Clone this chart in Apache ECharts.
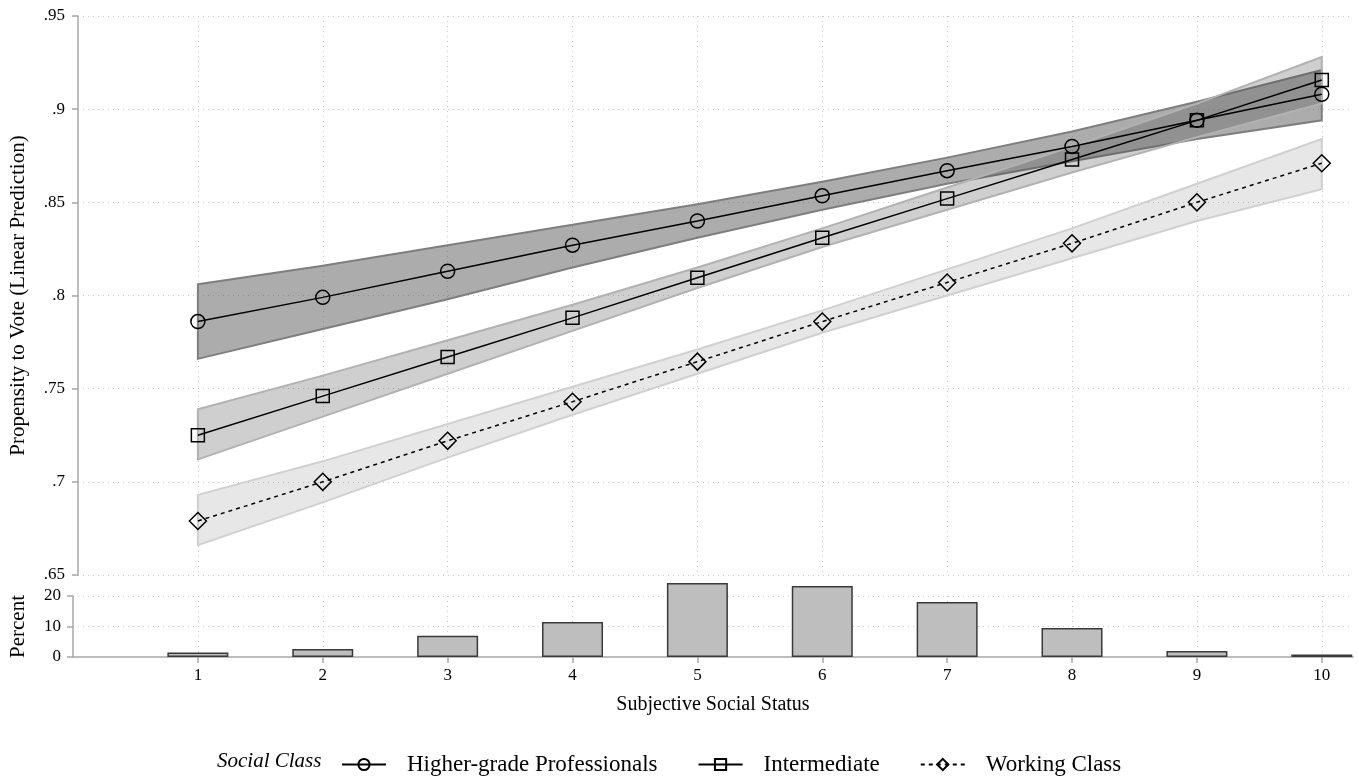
<!DOCTYPE html>
<html>
<head>
<meta charset="utf-8">
<script src="https://cdn.jsdelivr.net/npm/echarts@6/dist/echarts.min.js"></script>
<style>html,body{margin:0;padding:0;background:#fff}#c{width:1359px;height:776px}</style>
</head>
<body>
<div id="c"></div>
<script>
// ---- data ----
var statusX = [1, 2, 3, 4, 5, 6, 7, 8, 9, 10];
var higherFit = [0.786, 0.799, 0.813, 0.827, 0.840, 0.8535, 0.867, 0.880, 0.894, 0.908];
var higherLo  = [0.766, 0.782, 0.798, 0.815, 0.831, 0.846, 0.860, 0.872, 0.884, 0.894];
var higherHi  = [0.806, 0.816, 0.827, 0.838, 0.849, 0.861, 0.874, 0.888, 0.904, 0.921];
var interFit  = [0.725, 0.746, 0.767, 0.788, 0.8095, 0.831, 0.852, 0.873, 0.894, 0.9157];
var interLo   = [0.712, 0.735, 0.758, 0.781, 0.804, 0.826, 0.846, 0.866, 0.885, 0.903];
var interHi   = [0.739, 0.757, 0.776, 0.795, 0.815, 0.836, 0.858, 0.880, 0.903, 0.928];
var workFit   = [0.679, 0.700, 0.722, 0.743, 0.7645, 0.786, 0.807, 0.828, 0.850, 0.871];
var workLo    = [0.666, 0.689, 0.713, 0.736, 0.758, 0.780, 0.800, 0.820, 0.840, 0.857];
var workHi    = [0.693, 0.711, 0.731, 0.751, 0.771, 0.792, 0.814, 0.836, 0.860, 0.884];
var percent   = [1.5, 2.6, 7.0, 11.5, 24.3, 23.3, 18.0, 9.5, 2.0, 0.8];
var seriesNames = ['Higher-grade Professionals', 'Intermediate', 'Working Class'];

// ---- helpers ----
function pairs(ys) { return statusX.map(function (x, i) { return [x, ys[i]]; }); }
function bandRows(lo, hi) { return statusX.map(function (x, i) { return [x, lo[i], hi[i]]; }); }
function bandSeries(lo, hi, fill, stroke) {
  var rows = bandRows(lo, hi);
  return {
    type: 'custom', xAxisIndex: 0, yAxisIndex: 0, silent: true, z: 1,
    data: rows,
    encode: { x: 0, y: [1, 2] },
    renderItem: function (params, api) {
      if (params.dataIndex !== 0) return null;
      var pts = [];
      rows.forEach(function (r) { pts.push(api.coord([r[0], r[2]])); });
      rows.slice().reverse().forEach(function (r) { pts.push(api.coord([r[0], r[1]])); });
      return { type: 'polygon', shape: { points: pts }, style: { fill: fill, stroke: stroke, lineWidth: 2 } };
    }
  };
}
var serif = 'Liberation Serif';
var dotted = { color: '#c8c8c8', type: [1, 4], width: 1 };
function fmt(v) { return v.toFixed(2).replace(/^0/, '').replace(/0$/, ''); }

var chart = echarts.init(document.getElementById('c'), null, { renderer: 'canvas' });
chart.setOption({
  animation: false,
  backgroundColor: '#fff',
  grid: [
    { left: 72, width: 1281, top: 16, height: 559 },
    { left: 72, width: 1281, top: 596, height: 61 }
  ],
  xAxis: [
    { gridIndex: 0, type: 'value', min: 0, max: 10.25, interval: 1,
      axisLine: { show: false }, axisTick: { show: false }, axisLabel: { show: false },
      splitLine: { show: true, showMinLine: false, showMaxLine: false, lineStyle: dotted } },
    { gridIndex: 1, type: 'value', min: 0, max: 10.25, interval: 1,
      name: 'Subjective Social Status', nameLocation: 'middle', nameGap: 38,
      nameTextStyle: { fontFamily: serif, fontSize: 20, color: '#000' },
      axisLine: { show: true, onZero: false, lineStyle: { color: '#a8a8a8', width: 1.5 } },
      axisTick: { show: true, length: 6, lineStyle: { color: '#a8a8a8', width: 1.5 } },
      axisLabel: { showMinLabel: false, showMaxLabel: false, margin: 10, fontFamily: serif, fontSize: 17, color: '#000' },
      splitLine: { show: true, showMinLine: false, showMaxLine: false, lineStyle: dotted } }
  ],
  yAxis: [
    { gridIndex: 0, type: 'value', min: 0.65, max: 0.95, interval: 0.05, offset: -5,
      name: 'Propensity to Vote (Linear Prediction)', nameLocation: 'middle', nameGap: 49, nameRotate: 90,
      nameTextStyle: { fontFamily: serif, fontSize: 21, color: '#000' },
      axisLine: { show: true, lineStyle: { color: '#a8a8a8', width: 1.5 } },
      axisTick: { show: true, length: 6, lineStyle: { color: '#a8a8a8', width: 1.5 } },
      axisLabel: { formatter: fmt, margin: 13, fontFamily: serif, fontSize: 17, color: '#000' },
      splitLine: { show: true, lineStyle: dotted } },
    { gridIndex: 1, type: 'value', min: 0, max: 20, interval: 10,
      name: 'Percent', nameLocation: 'middle', nameGap: 44, nameRotate: 90,
      nameTextStyle: { fontFamily: serif, fontSize: 21, color: '#000' },
      axisLine: { show: true, lineStyle: { color: '#a8a8a8', width: 1.5 } },
      axisTick: { show: true, length: 6, lineStyle: { color: '#a8a8a8', width: 1.5 } },
      axisLabel: { margin: 12, fontFamily: serif, fontSize: 17, color: '#000' },
      splitLine: { show: true, showMinLine: false, lineStyle: dotted } }
  ],
  legend: {
    data: seriesNames, left: 336, top: 748, itemWidth: 44, itemHeight: 14, itemGap: 40,
    textStyle: { fontFamily: serif, fontSize: 23, color: '#000', padding: [0, 0, 0, 16] }
  },
  graphic: [
    { type: 'text', left: 217, top: 751, style: { text: 'Social Class', font: 'italic 21px "Liberation Serif"', fill: '#000' } }
  ],
  series: [
    bandSeries(higherLo, higherHi, 'rgba(70,70,70,0.45)', '#7e7e7e'),
    bandSeries(interLo, interHi, 'rgba(70,70,70,0.26)', '#b2b2b2'),
    bandSeries(workLo, workHi, 'rgba(70,70,70,0.13)', '#d0d0d0'),
    { name: seriesNames[0], type: 'line', xAxisIndex: 0, yAxisIndex: 0, z: 3, data: pairs(higherFit),
      symbol: 'circle', symbolSize: 14, showAllSymbol: true,
      lineStyle: { color: '#000', width: 1.5 },
      itemStyle: { color: 'rgba(0,0,0,0)', borderColor: '#000', borderWidth: 1.5 } },
    { name: seriesNames[1], type: 'line', xAxisIndex: 0, yAxisIndex: 0, z: 3, data: pairs(interFit),
      symbol: 'rect', symbolSize: 13, showAllSymbol: true,
      lineStyle: { color: '#000', width: 1.5 },
      itemStyle: { color: 'rgba(0,0,0,0)', borderColor: '#000', borderWidth: 1.5 } },
    { name: seriesNames[2], type: 'line', xAxisIndex: 0, yAxisIndex: 0, z: 3, data: pairs(workFit),
      symbol: 'diamond', symbolSize: 17, showAllSymbol: true,
      lineStyle: { color: '#000', width: 1.5, type: [4, 4] },
      itemStyle: { color: 'rgba(0,0,0,0)', borderColor: '#000', borderWidth: 1.5 } },
    { type: 'bar', xAxisIndex: 1, yAxisIndex: 1, data: pairs(percent), barWidth: 61, clip: false, silent: true,
      itemStyle: { color: '#bebebe', borderColor: '#3a3a3a', borderWidth: 1.5 } }
  ]
});
</script>
</body>
</html>
